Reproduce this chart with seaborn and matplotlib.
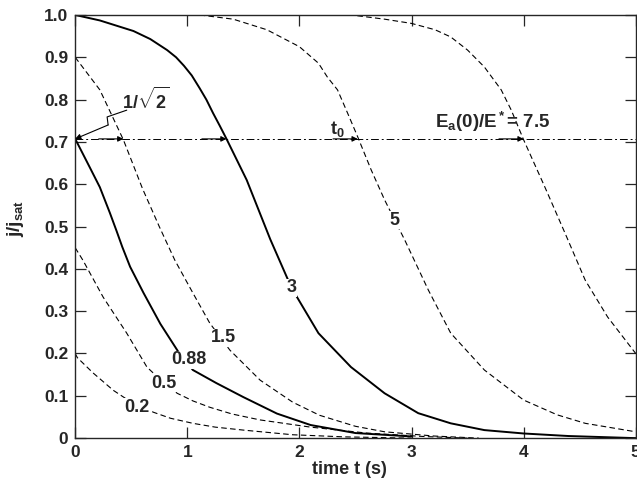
import numpy as np
import pandas as pd
import matplotlib
matplotlib.use('Agg')
import matplotlib.pyplot as plt
import seaborn as sns

# j/j_sat versus time, one curve per E_a(0)/E*
t_02 = [0, 0.02, 0.16, 0.34, 0.5, 0.7, 0.85, 1.05, 1.25, 1.5, 1.94, 2.4, 3.0]
j_02 = [0.2, 0.19, 0.154, 0.113, 0.085, 0.061, 0.047, 0.035, 0.026, 0.019, 0.008, 0.003, 0.0]

t_05 = [0, 0.07, 0.25, 0.46, 0.64, 0.78, 0.91, 1.05, 1.2, 1.4, 1.65, 2.1, 2.6, 3.1, 3.5]
j_05 = [0.45, 0.42, 0.333, 0.248, 0.168, 0.133, 0.106, 0.088, 0.073, 0.057, 0.043, 0.026, 0.012, 0.004, 0.0]

t_088 = [0, 0.02, 0.13, 0.22, 0.31, 0.37, 0.42, 0.49, 0.61, 0.76, 0.92, 1.05, 1.26, 1.5, 1.8, 2.1, 2.5, 3.0]
j_088 = [0.707, 0.697, 0.64, 0.593, 0.532, 0.489, 0.452, 0.405, 0.343, 0.27, 0.204, 0.161, 0.13, 0.097, 0.058, 0.031, 0.012, 0.004]

t_15 = [0, 0.22, 0.43, 0.6, 0.75, 0.89, 1.05, 1.2, 1.38, 1.65, 1.94, 2.18, 2.5, 2.76, 3.2, 3.6]
j_15 = [0.9, 0.823, 0.705, 0.59, 0.5, 0.42, 0.343, 0.272, 0.208, 0.137, 0.085, 0.054, 0.028, 0.015, 0.005, 0.0]

t_3 = [0, 0.22, 0.52, 0.67, 0.82, 0.9, 0.97, 1.04, 1.11, 1.17, 1.23, 1.29, 1.35, 1.53, 1.74,
       1.93, 2.17, 2.46, 2.76, 3.06, 3.35, 3.65, 4.0, 4.4, 5.0]
j_3 = [1.0, 0.987, 0.962, 0.943, 0.917, 0.9, 0.88, 0.857, 0.827, 0.8, 0.768, 0.738, 0.707, 0.61, 0.47,
       0.355, 0.248, 0.168, 0.106, 0.059, 0.035, 0.019, 0.011, 0.005, 0.0]

t_5 = [1.11, 1.41, 1.71, 2.0, 2.17, 2.25, 2.34, 2.43, 2.52, 2.64, 2.76, 2.94, 3.15, 3.35, 3.65, 4.0, 4.3, 4.55, 5.0]
j_5 = [1.0, 0.99, 0.965, 0.925, 0.886, 0.853, 0.823, 0.768, 0.712, 0.634, 0.563, 0.468, 0.35, 0.248, 0.161, 0.09, 0.055, 0.035, 0.015]

t_75 = [2.2, 2.46, 2.76, 3.0, 3.21, 3.35, 3.5, 3.65, 3.8, 3.89, 4.0, 4.19, 4.37, 4.55, 4.75, 5.0]
j_75 = [1.0, 1.0, 0.99, 0.98, 0.965, 0.948, 0.917, 0.877, 0.823, 0.775, 0.705, 0.593, 0.484, 0.373, 0.286, 0.2]

ratio = 1 / np.sqrt(2)
cross_t = [0.43, 1.35, 2.52, 4.0]   # where the 1/sqrt2 line meets 1.5, 3, 5, 7.5

curves = [('0.2', t_02, j_02, False), ('0.5', t_05, j_05, False),
          ('0.88', t_088, j_088, True), ('1.5', t_15, j_15, False),
          ('3', t_3, j_3, True), ('5', t_5, j_5, False), ('7.5', t_75, j_75, False)]

sns.set_style('ticks')
plt.rcParams['font.family'] = ['Liberation Sans', 'DejaVu Sans']
plt.rcParams['font.weight'] = 'bold'
plt.rcParams['mathtext.fontset'] = 'custom'
plt.rcParams['mathtext.rm'] = 'Liberation Sans:bold'
plt.rcParams['mathtext.it'] = 'Liberation Sans:bold'
plt.rcParams['mathtext.bf'] = 'Liberation Sans:bold'

fig = plt.figure(figsize=(6.37, 4.82), dpi=100)
ax = fig.add_axes([0.118, 0.091, 0.880, 0.878])

for name, t, j, solid in curves:
    df = pd.DataFrame({'t': t, 'j': j})
    sns.lineplot(data=df, x='t', y='j', ax=ax, color='black', sort=False,
                 estimator=None, lw=1.4 if solid else 0.8,
                 linestyle='-' if solid else (0, (5, 3)))

ax.axhline(ratio, color='black', lw=0.7, ls=(0, (8, 3, 2, 3)))
for t in cross_t:
    ax.annotate('', xy=(t, ratio), xytext=(t - 0.22, ratio),
                arrowprops=dict(arrowstyle='-|>', color='black', lw=0.8,
                                mutation_scale=8, shrinkA=0, shrinkB=0))

# curve labels, white box breaks the line
bb = dict(facecolor='white', edgecolor='none', pad=0.3)
for txt, x, y in [('0.2', 0.55, 0.073), ('0.5', 0.79, 0.130), ('0.88', 1.01, 0.185),
                  ('1.5', 1.32, 0.237), ('3', 1.93, 0.355), ('5', 2.85, 0.515)]:
    ax.text(x, y, txt, ha='center', va='center', fontsize=13, fontweight='bold', bbox=bb)

# 1/sqrt2 pointer
ax.plot([0.46, 0.285, 0.294], [0.775, 0.759, 0.740], color='black', lw=0.8)
ax.annotate('', xy=(0.0, ratio), xytext=(0.294, 0.740),
            arrowprops=dict(arrowstyle='-|>', color='black', lw=0.8,
                            mutation_scale=8, shrinkA=0, shrinkB=0))
ax.text(0.63, 0.80, r'1/$\sqrt{2}$', ha='center', va='center', fontsize=13)
ax.text(2.34, 0.73, r't$_0$', ha='center', va='center', fontsize=13)
ax.text(3.72, 0.748, r'E$_a$(0)/E$^*$= 7.5', ha='center', va='center', fontsize=13.5)

ax.set_xlim(0, 5)
ax.set_ylim(0, 1.0)
ax.set_xticks([0, 1, 2, 3, 4, 5])
ax.set_xticklabels(['0', '1', '2', '3', '4', '5'])
yt = np.arange(0, 11) / 10
ax.set_yticks(yt)
ax.set_yticklabels(['0'] + ['%.1f' % v for v in yt[1:]])
ax.tick_params(direction='in', top=True, right=True, length=8, width=0.9,
               labelsize=12.5, pad=5)
for lab in ax.get_xticklabels() + ax.get_yticklabels():
    lab.set_fontweight('bold')
for s in ax.spines.values():
    s.set_linewidth(1.0)

ax.set_xlabel('time t (s)', fontsize=13, fontweight='bold')
ax.xaxis.set_label_coords(0.49, -0.055)
ax.set_ylabel(r'j/j$_{sat}$', fontsize=13.5, fontweight='bold')
ax.yaxis.set_label_coords(-0.088, 0.52)

fig.savefig('out.png', dpi=100)
